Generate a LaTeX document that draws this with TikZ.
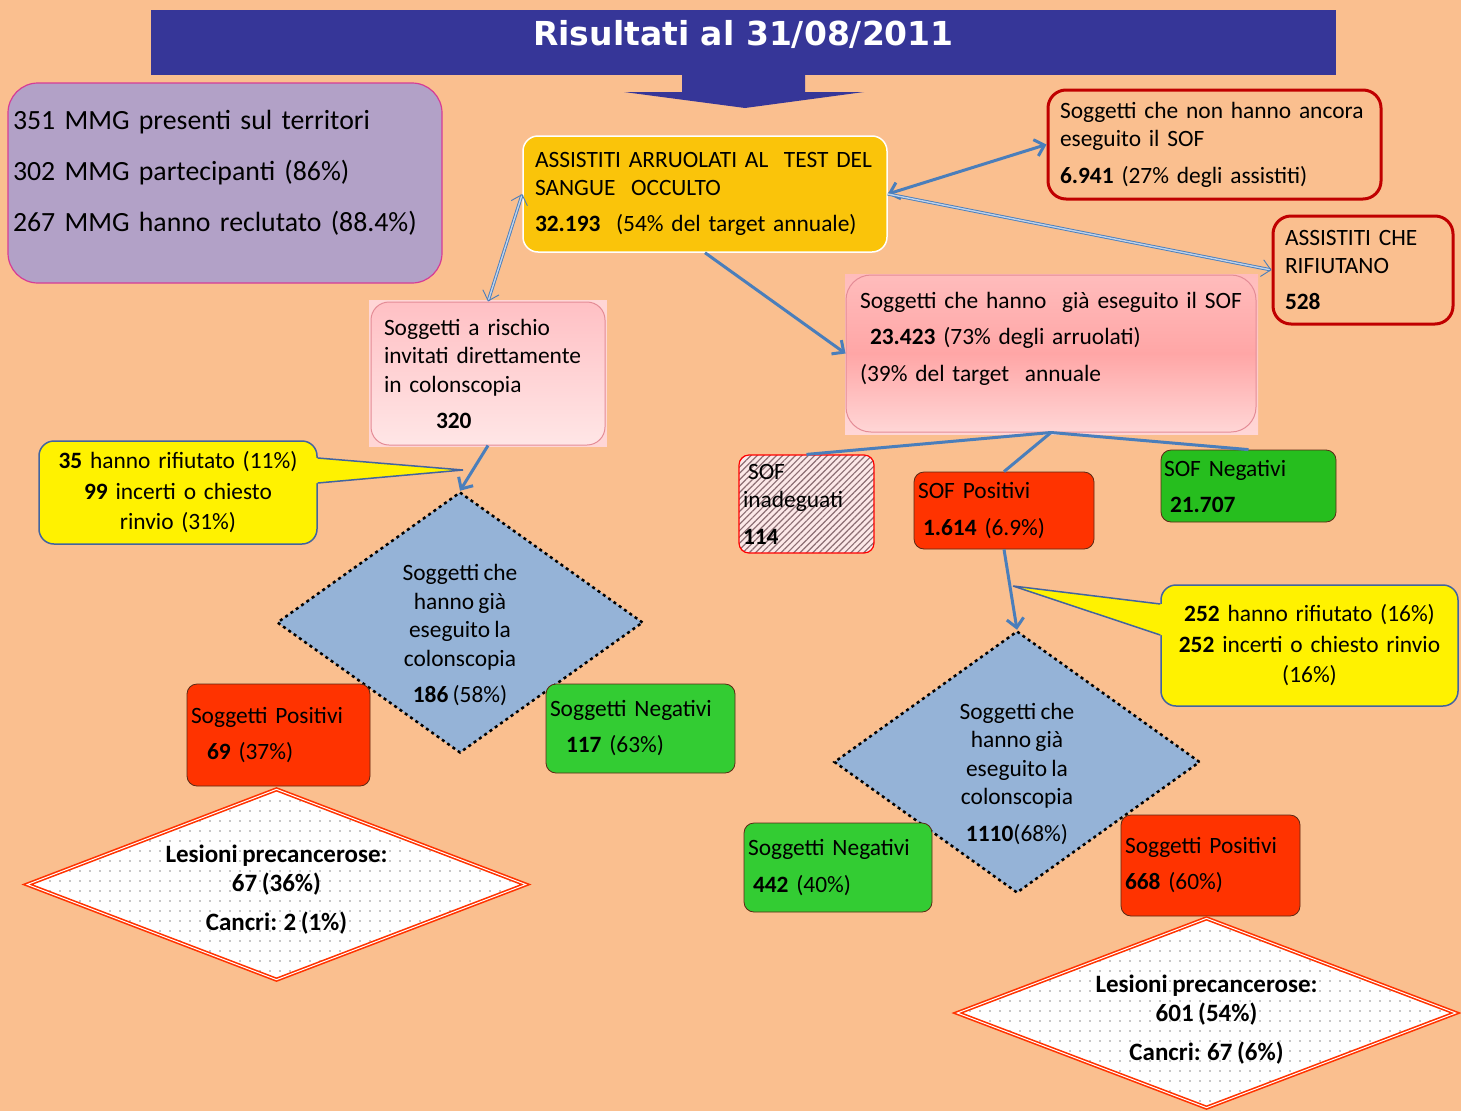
\documentclass[tikz,border=0pt]{standalone}
\usepackage{fontspec}
\setmainfont{Carlito}[WordSpace=0.8]
\newfontfamily\titlefont{DejaVu Sans}
\usetikzlibrary{shapes.geometric,arrows.meta,patterns.meta}
\hyphenpenalty=10000
\exhyphenpenalty=10000
\definecolor{peach}{RGB}{250,191,143}
\definecolor{bannerblue}{RGB}{54,54,152}
\definecolor{lilac}{RGB}{178,161,199}
\definecolor{magentaline}{RGB}{214,60,150}
\definecolor{gold}{RGB}{250,196,10}
\definecolor{darkred}{RGB}{192,0,0}
\definecolor{redorange}{RGB}{255,51,0}
\definecolor{sofgreen}{RGB}{38,190,30}
\definecolor{leafgreen}{RGB}{51,204,51}
\definecolor{diamblue}{RGB}{149,179,215}
\definecolor{conn}{RGB}{74,126,187}
\definecolor{connpale}{RGB}{190,210,235}
\definecolor{calloutline}{RGB}{65,100,160}
\definecolor{pinktop}{RGB}{255,192,196}
\definecolor{pinkbottom}{RGB}{255,230,230}
\definecolor{pinkback}{RGB}{255,214,214}
\definecolor{pinkline}{RGB}{228,140,150}
\definecolor{salmontop}{RGB}{255,188,188}
\definecolor{salmonmid}{RGB}{255,166,166}
\definecolor{salmonbottom}{RGB}{255,214,214}
\definecolor{hatchred}{RGB}{140,110,115}
\definecolor{hatchbg}{RGB}{252,232,232}
\definecolor{dotgray}{RGB}{140,140,140}
\definecolor{boxline}{RGB}{90,40,20}
\newcommand\liftby[1]{\rule[-#1]{0pt}{0pt}}
\newcommand\dropby[1]{\rule{0pt}{#1}}
\begin{document}
\begin{tikzpicture}[x=1pt,y=-1pt,
	>={Straight Barb[length=9pt,width=17pt]},
	box/.style={rectangle,rounded corners=10pt,align=left,inner ysep=0pt,inner xsep=4pt,font=\fontsize{23.4}{28}\selectfont},
	solidbox/.style={box,draw=boxline,line width=0.8pt},
	posbox/.style={solidbox,fill=redorange},
	negbox/.style={solidbox,fill=leafgreen},
	outlinebox/.style={box,draw=darkred,line width=3pt,rounded corners=18pt,inner xsep=12pt},
	callout/.style={box,align=center,fill=yellow,draw=calloutline,line width=1.5pt,rounded corners=15pt,font=\fontsize{23.4}{30.5}\selectfont},
	wedge/.style={draw=calloutline,line width=1.5pt},
	check/.style={diamond,shape aspect=1.35,inner sep=-15pt,align=center,fill=diamblue,draw=black,line width=2.5pt,dash pattern=on 3pt off 3.5pt,font=\fontsize{23.4}{28.5}\selectfont},
	lesion/.style={diamond,shape aspect=2.6,inner sep=-15pt,align=center,preaction={fill=white},pattern={Dots[distance=10pt,radius=0.9pt]},pattern color=dotgray,draw=redorange,line width=1.6pt,double=white,double distance=1pt,font=\bfseries\fontsize{25}{29}\selectfont},
	link/.style={draw=conn,line width=3pt},
	twin/.style={draw=conn,line width=0.9pt,double=connpale,double distance=1.4pt}]
   \fill[peach] (0,0) rectangle (1461,1111);
   \useasboundingbox (0,0) rectangle (1461,1111);
   \node (title) at (743.5,42.5) [fill=bannerblue,minimum width=1185pt,minimum height=65pt,inner sep=0pt,text=white,font=\titlefont\bfseries\fontsize{33}{36}\selectfont] {Risultati al 31/08/2011\liftby{19pt}};
   \fill[bannerblue] (682,74) -- (682,92) -- (624,92) -- (745,108) -- (864,92) -- (805,92) -- (805,74) -- cycle;
   \node (mmg) at (225,183) [box,fill=lilac,draw=magentaline,line width=1.2pt,rounded corners=30pt,inner xsep=5pt,text width=424pt,minimum height=200pt,font=\fontsize{27.8}{51}\selectfont] {351 MMG presenti sul territori\\302 MMG partecipanti (86\%)\\267 MMG hanno reclutato (88.4\%)\liftby{24pt}};
   \node (assist) at (705,194) [box,fill=gold,draw=white,line width=1.5pt,rounded corners=15pt,inner xsep=12pt,text width=340pt,minimum height=116pt] {ASSISTITI ARRUOLATI AL\ \ TEST DEL\\SANGUE\ \ OCCULTO\\[8pt]\textbf{32.193}\ \ (54\% del target annuale)};
   \node (nonfatto) at (1214.5,144.5) [outlinebox,text width=309pt,minimum height=109pt] {Soggetti che non hanno ancora\\eseguito il SOF\\[9pt]\textbf{6.941} (27\% degli assistiti)};
   \node (rifiuto) at (1363,270) [outlinebox,text width=156pt,minimum height=108pt] {ASSISTITI CHE\\RIFIUTANO\\[8pt]\textbf{528}};
   \fill[pinkback] (369,300) rectangle (607,447);
   \node (rischio) at (488,373.5) [box,top color=pinktop,bottom color=pinkbottom,draw=pinkline,line width=1pt,rounded corners=18pt,inner xsep=13pt,text width=208pt,minimum height=143pt] {Soggetti a rischio\\invitati direttamente\\[1pt]in colonscopia\\[8pt]\hspace*{52pt}\textbf{320}};
   \shade[top color=salmontop,bottom color=pinkback] (845,274) rectangle (1258,434);
   \node (eseguito) at (1051,353.5) [box,top color=salmontop,bottom color=salmonbottom,middle color=salmonmid,draw=pinkline,line width=1pt,rounded corners=25pt,inner xsep=14pt,text width=382pt,minimum height=157pt] {Soggetti che hanno\ \ già eseguito il SOF\\[8pt]\hspace*{10pt}\textbf{23.423} (73\% degli arruolati)\\[9pt](39\% del target\ \ annuale\liftby{34pt}};
   \node (inadeguati) at (806.5,504) [box,preaction={fill=hatchbg},pattern={Lines[angle=45,distance=4.5pt,line width=1.2pt]},pattern color=hatchred,draw=red,line width=1.2pt,text width=127pt,minimum height=98pt] {\hspace*{5pt}SOF\\inadeguati\\[9pt]\textbf{114}};
   \node (sofpos) at (1004,510.5) [posbox,text width=172pt,minimum height=77pt] {SOF Positivi\\[9pt]\hspace*{5pt}\textbf{1.614} (6.9\%)};
   \node (sofneg) at (1248.5,486) [solidbox,fill=sofgreen,inner xsep=3pt,text width=169pt,minimum height=72pt] {SOF Negativi\\[8pt]\hspace*{6pt}\textbf{21.707}};
   \node (rifiutoL) at (178,492.5) [callout,text width=270pt,minimum height=103pt] {\textbf{35} hanno rifiutato (11\%)\\\textbf{99} incerti o chiesto\\rinvio (31\%)};
   \coordinate (puntaL) at (463,470);
   \node (colonL) at (460,622.5) [check,minimum width=366pt,minimum height=261pt] {\dropby{41pt}Soggetti che\\hanno già\\eseguito la\\colonscopia\\[7.5pt]\textbf{186} (58\%)};
   \node (positiviL) at (278.5,735) [posbox,text width=175pt,minimum height=102pt] {Soggetti Positivi\\[8pt]\hspace*{16pt}\textbf{69} (37\%)};
   \node (negativiL) at (640.5,728.5) [negbox,text width=181pt,minimum height=89pt] {Soggetti Negativi\\[8pt]\hspace*{16pt}\textbf{117} (63\%)};
   \node (lesioniL) at (276.5,884.5) [lesion,minimum width=499pt,minimum height=191pt] {\dropby{28pt}Lesioni precancerose:\\67 (36\%)\\[10pt]Cancri: 2 (1\%)};
   \node (rifiutoR) at (1309.5,645.5) [callout,text width=289pt,minimum height=121pt] {\textbf{252} hanno rifiutato (16\%)\\\textbf{252} incerti o chiesto rinvio\\(16\%)};
   \coordinate (puntaR) at (1013,586);
   \node (colonR) at (1017,762) [check,minimum width=366pt,minimum height=262pt] {\dropby{40pt}Soggetti che\\hanno già\\eseguito la\\colonscopia\\[8pt]\textbf{1110}(68\%)};
   \node (negativiR) at (838,867.5) [negbox,text width=180pt,minimum height=89pt] {Soggetti Negativi\\[9pt]\hspace*{5pt}\textbf{442} (40\%)};
   \node (positiviR) at (1210.5,865.5) [posbox,text width=171pt,minimum height=101pt] {Soggetti Positivi\\[8pt]\textbf{668} (60\%)};
   \node (lesioniR) at (1206.5,1013) [lesion,minimum width=499pt,minimum height=190pt] {\dropby{31pt}Lesioni precancerose:\\601 (54\%)\\[10pt]Cancri: 67 (6\%)};
   \fill[yellow] ([xshift=-4pt,yshift=34.5pt]rifiutoL.east) -- ([yshift=34.5pt]rifiutoL.east) -- (puntaL) -- ([yshift=9.5pt]rifiutoL.east) -- ([xshift=-4pt,yshift=9.5pt]rifiutoL.east) -- cycle;
   \draw[wedge] ([yshift=34.5pt]rifiutoL.east) -- (puntaL) -- ([yshift=9.5pt]rifiutoL.east);
   \fill[yellow] ([xshift=4pt,yshift=41.5pt]rifiutoR.west) -- ([yshift=41.5pt]rifiutoR.west) -- (puntaR) -- ([yshift=10.5pt]rifiutoR.west) -- ([xshift=4pt,yshift=10.5pt]rifiutoR.west) -- cycle;
   \draw[wedge] ([yshift=41.5pt]rifiutoR.west) -- (puntaR) -- ([yshift=10.5pt]rifiutoR.west);
   \draw[twin,<->] (rischio.north) -- (assist.west);
   \draw[link,<->] (assist.east) -- (nonfatto.west);
   \draw[twin,->] (assist.east) -- (rifiuto.west);
   \draw[link,->] (assist.south) -- (eseguito.west);
   \draw[link] (eseguito.south) -- (inadeguati.north);
   \draw[link] (eseguito.south) -- (sofpos.north);
   \draw[link] (eseguito.south) -- (sofneg.north);
   \draw[link,->] (rischio.south) -- (colonL.north);
   \draw[link,->] (sofpos.south) -- (colonR.north);
\end{tikzpicture}
\end{document}
